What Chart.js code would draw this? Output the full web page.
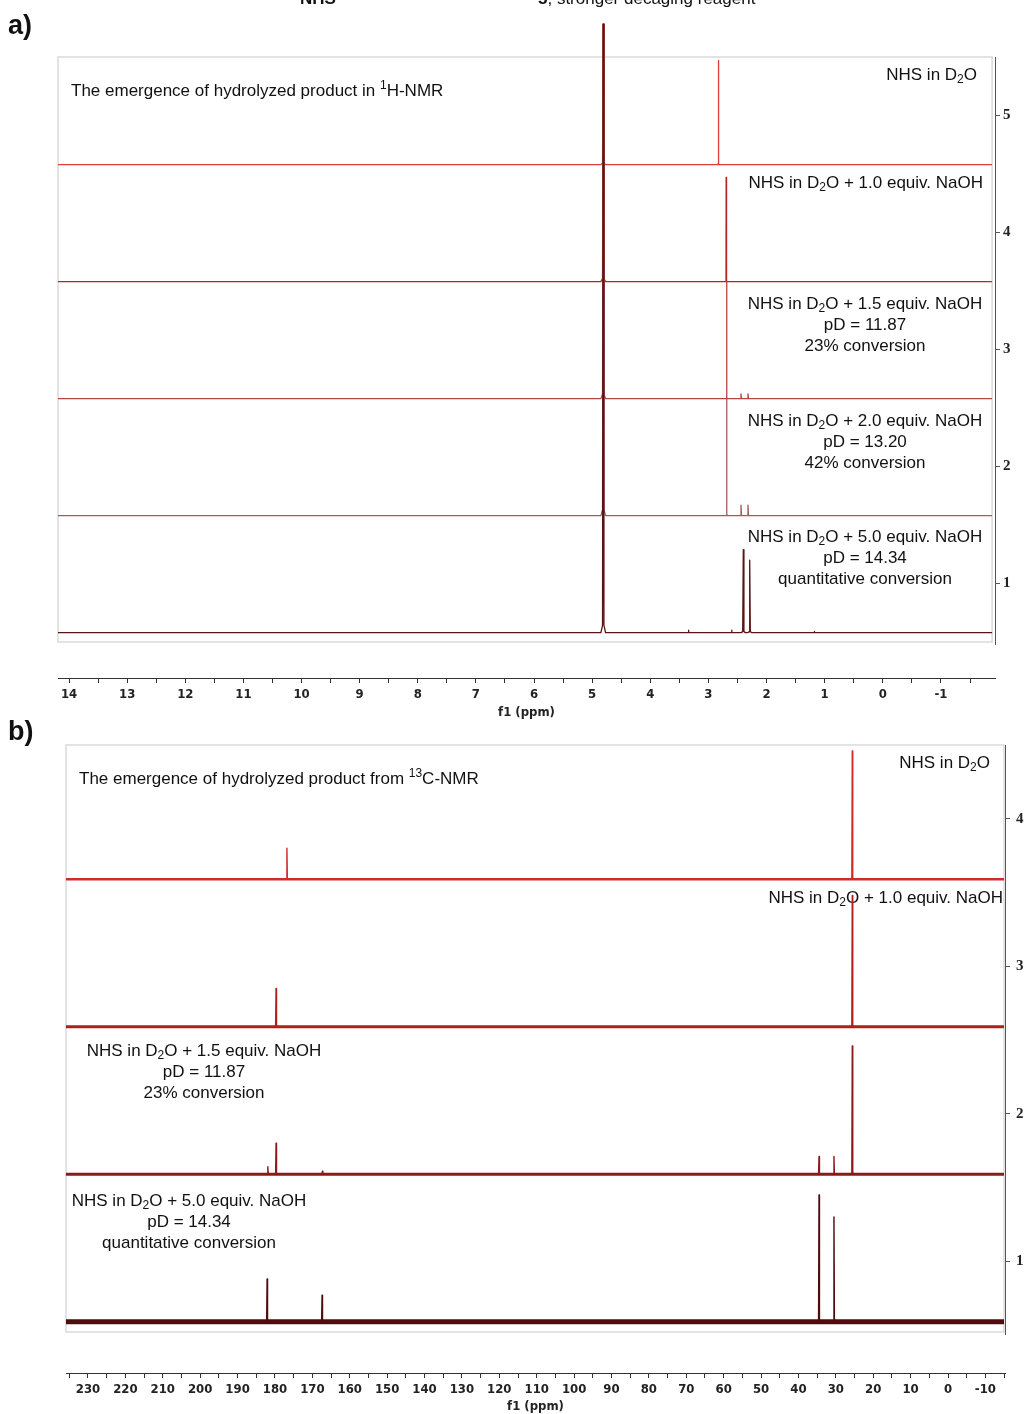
<!DOCTYPE html>
<html>
<head>
<meta charset="utf-8">
<script src="https://cdn.jsdelivr.net/npm/chart.js@4.4.1/dist/chart.umd.min.js"></script>
<style>
  body { margin: 0; background: #fff; }
  #wrap { position: relative; width: 1027px; height: 1414px; }
  canvas { position: absolute; left: 0; }
</style>
</head>
<body>
<div id="wrap">
  <canvas id="nmrH" width="1027" height="720" style="top:0"></canvas>
  <canvas id="nmrC" width="1027" height="699" style="top:715px"></canvas>
</div>
<script>
// ---- a) 1H-NMR, traces listed bottom to top ----
const hTicks = [14, 13, 12, 11, 10, 9, 8, 7, 6, 5, 4, 3, 2, 1, 0, -1];
const hOffsets = [1, 2, 3, 4, 5];
const hBaselines = [0.58, 1.58, 2.58, 3.58, 4.58];
const hPeakPpm = [
  [4.81, 3.34, 2.60, 2.40, 2.29, 1.18],
  [4.81, 2.685, 2.44, 2.32],
  [4.81, 2.685, 2.44, 2.32],
  [4.81, 2.695],
  [4.81, 2.83]
];
const hPeakHeight = [
  [5.20, 0.02, 0.02, 0.71, 0.62, 0.01],
  [4.20, 1.00, 0.09, 0.09],
  [3.20, 1.00, 0.04, 0.04],
  [2.20, 0.89],
  [1.20, 0.89]
];
const hPeakWidth = [
  [0.04, 0.01, 0.015, 0.035, 0.035, 0.01],
  [0.04, 0.01, 0.03, 0.03],
  [0.04, 0.01, 0.03, 0.03],
  [0.04, 0.01],
  [0.04, 0.01]
];
const hLabels = [
  ['NHS in D_{2}O + 5.0 equiv. NaOH', 'pD = 14.34', 'quantitative conversion'],
  ['NHS in D_{2}O + 2.0 equiv. NaOH', 'pD = 13.20', '42% conversion'],
  ['NHS in D_{2}O + 1.5 equiv. NaOH', 'pD = 11.87', '23% conversion'],
  ['NHS in D_{2}O + 1.0 equiv. NaOH'],
  ['NHS in D_{2}O']
];
const hTitle = 'The emergence of hydrolyzed product in ^{1}H-NMR';

// ---- b) 13C-NMR, traces listed bottom to top ----
const cTicks = [230, 220, 210, 200, 190, 180, 170, 160, 150, 140, 130, 120, 110, 100, 90, 80, 70, 60, 50, 40, 30, 20, 10, 0, -10];
const cOffsets = [1, 2, 3, 4];
const cBaselines = [0.59, 1.59, 2.59, 3.59];
const cPeakPpm = [
  [182.1, 167.4, 34.5, 30.5],
  [181.9, 179.7, 167.3, 34.5, 30.5, 25.6],
  [179.7, 25.6],
  [176.8, 25.6]
];
const cPeakHeight = [
  [0.29, 0.18, 0.86, 0.71],
  [0.05, 0.21, 0.02, 0.12, 0.12, 0.87],
  [0.26, 0.89],
  [0.21, 0.87]
];
const cPeakWidth = [
  [0.4, 0.4, 0.4, 0.4],
  [0.4, 0.4, 0.4, 0.4, 0.4, 0.4],
  [0.4, 0.4],
  [0.4, 0.4]
];
const cLabels = [
  ['NHS in D_{2}O + 5.0 equiv. NaOH', 'pD = 14.34', 'quantitative conversion'],
  ['NHS in D_{2}O + 1.5 equiv. NaOH', 'pD = 11.87', '23% conversion'],
  ['NHS in D_{2}O + 1.0 equiv. NaOH'],
  ['NHS in D_{2}O']
];
const cTitle = 'The emergence of hydrolyzed product from ^{13}C-NMR';

const SANS = "'Liberation Sans', Arial, sans-serif";
const NARROW = "'Liberation Sans Narrow', 'Arial Narrow', 'DejaVu Sans Condensed', sans-serif";

// text with _{sub} and ^{sup} parts
function richText(ctx, str, x, y, align, size) {
  const parts = [];
  str.split(/([_^]\{[^}]*\})/).forEach(s => {
    if (!s) return;
    if (s.startsWith('_{')) parts.push({ t: s.slice(2, -1), k: 'sub' });
    else if (s.startsWith('^{')) parts.push({ t: s.slice(2, -1), k: 'sup' });
    else parts.push({ t: s, k: 'n' });
  });
  const small = Math.round(size * 0.68);
  let total = 0;
  parts.forEach(p => {
    ctx.font = (p.k === 'n' ? size : small) + 'px ' + SANS;
    p.w = ctx.measureText(p.t).width;
    total += p.w;
  });
  let cx = align === 'right' ? x - total : align === 'center' ? x - total / 2 : x;
  ctx.textAlign = 'left';
  ctx.textBaseline = 'middle';
  parts.forEach(p => {
    ctx.font = (p.k === 'n' ? size : small) + 'px ' + SANS;
    const dy = p.k === 'sub' ? size * 0.3 : p.k === 'sup' ? -size * 0.3 : 0;
    ctx.fillText(p.t, cx, y + dy);
    cx += p.w;
  });
}

function traceData(base, ppm, height, width, xFrom, xTo) {
  const idx = ppm.map((_, i) => i).sort((a, b) => ppm[b] - ppm[a]);
  const pts = [{ x: xFrom, y: base }];
  idx.forEach(i => {
    const p = ppm[i], h = height[i], w = width[i];
    pts.push({ x: p + w, y: base }, { x: p + w * 0.3, y: base + h * 0.012 },
             { x: p, y: base + h },
             { x: p - w * 0.3, y: base + h * 0.012 }, { x: p - w, y: base });
  });
  pts.push({ x: xTo, y: base });
  return pts;
}

function withMinor(major) {
  const step = major[0] - major[1];
  const out = [major[0] + step / 2];
  major.forEach(v => out.push(v, v - step / 2));
  return out;
}

function panelPlugin(d) {
  return {
    id: 'panel',
    beforeDatasetsDraw(chart) {
      const { ctx, scales: { x, y }, chartArea } = chart;
      ctx.save();
      const l = x.getPixelForValue(d.frameX[0]), r = x.getPixelForValue(d.frameX[1]);
      const t = y.getPixelForValue(d.frameY[1]), b = y.getPixelForValue(d.frameY[0]);
      ctx.strokeStyle = '#dadada';
      ctx.lineWidth = 1.5;
      ctx.strokeRect(l, t, r - l, b - t);
      ctx.strokeStyle = '#555';
      ctx.lineWidth = 1;
      ctx.beginPath();
      ctx.moveTo(chartArea.right + 0.5, t);
      ctx.lineTo(chartArea.right + 0.5, b + 3);
      ctx.stroke();
      ctx.fillStyle = '#111';
      d.labels.forEach((lines, i) => {
        const p = d.labelPos[i];
        lines.forEach((s, k) => richText(ctx, s, p.x, p.y - d.top + k * 21, p.align, 17));
      });
      richText(ctx, d.title, d.titlePos.x, d.titlePos.y - d.top, 'left', 17);
      ctx.restore();
    },
    afterDraw(chart) {
      const ctx = chart.ctx;
      ctx.save();
      ctx.fillStyle = '#111';
      ctx.textAlign = 'left';
      ctx.textBaseline = 'middle';
      ctx.font = 'bold 27px ' + SANS;
      ctx.fillText(d.letter, 8, d.letterY - d.top);
      if (d.header) {
        ctx.textBaseline = 'alphabetic';
        ctx.font = 'bold 17px ' + SANS;
        ctx.fillText('NHS', 300, 4);
        ctx.fillText('5', 538, 4);
        const w5 = ctx.measureText('5').width;
        ctx.font = '17px ' + SANS;
        ctx.fillText(', stronger decaging reagent', 538 + w5, 4);
      }
      ctx.restore();
    }
  };
}

function spectrumChart(canvasId, d) {
  const datasets = [];
  d.baselines.forEach((b, i) => {
    datasets.push({
      data: traceData(b, d.ppm[i], d.height[i], d.width[i], d.frameX[0], d.frameX[1]),
      borderColor: d.colors[i], borderWidth: d.lineWidth, order: 1, clip: false
    });
    if (d.bandWidth) {
      datasets.push({
        data: [{ x: d.frameX[0], y: b }, { x: d.frameX[1], y: b }],
        borderColor: d.colors[i], borderWidth: d.bandWidth[i], order: 2, clip: false
      });
    }
  });
  return new Chart(document.getElementById(canvasId), {
    type: 'line',
    data: { datasets: datasets },
    options: {
      responsive: false,
      animation: false,
      events: [],
      parsing: false,
      layout: { padding: d.padding },
      elements: { point: { radius: 0 }, line: { tension: 0, borderJoinStyle: 'round' } },
      plugins: { legend: { display: false }, tooltip: { enabled: false } },
      scales: {
        x: {
          type: 'linear', reverse: true, min: d.xMin, max: d.xMax,
          afterBuildTicks: s => {
            s.ticks = withMinor(d.ticks).filter(v => v <= d.xMax && v >= d.xMin)
              .sort((a, b) => a - b).map(v => ({ value: v }));
          },
          afterFit: s => { s.height = d.xAxisHeight; },
          ticks: {
            autoSkip: false, maxRotation: 0, padding: 4, color: '#222',
            font: { family: NARROW, size: 13, weight: 'bold' },
            callback: v => d.ticks.includes(v) ? String(v) : ''
          },
          grid: { drawOnChartArea: false, tickLength: 5, color: '#333' },
          border: { display: true, color: '#333', width: 1 },
          title: {
            display: true, text: 'f1 (ppm)', color: '#222', padding: { top: 0, bottom: 0 },
            font: { family: NARROW, size: 13, weight: 'bold' }
          }
        },
        y: {
          type: 'linear', position: 'right', min: d.yMin, max: d.yMax,
          afterBuildTicks: s => { s.ticks = d.offsets.map(v => ({ value: v })); },
          afterFit: s => { s.width = d.yAxisWidth; },
          ticks: {
            padding: d.yPad, color: '#222',
            font: { family: "'Liberation Serif', 'DejaVu Serif', serif", size: 15, weight: 'bold' }
          },
          grid: { drawOnChartArea: false, tickLength: 5, color: '#555' },
          border: { display: false }
        }
      }
    },
    plugins: [panelPlugin(d)]
  });
}

spectrumChart('nmrH', {
  baselines: hBaselines, ppm: hPeakPpm, height: hPeakHeight, width: hPeakWidth,
  ticks: hTicks, offsets: hOffsets, labels: hLabels, title: hTitle,
  colors: ['#5a1414', '#a65a5a', '#b84444', '#b42626', '#e03c3c'],
  lineWidth: 1.3,
  xMin: -1.93, xMax: 14.19, yMin: 0.192, yMax: 5.5,
  frameX: [14.19, -1.88], frameY: [0.5, 5.5],
  padding: { left: 58, right: 1, top: 57, bottom: 0 },
  xAxisHeight: 42, yAxisWidth: 31, yPad: 3,
  top: 0, letter: 'a)', letterY: 27, header: true,
  titlePos: { x: 71, y: 91 },
  labelPos: [
    { x: 865, y: 537, align: 'center' },
    { x: 865, y: 421, align: 'center' },
    { x: 865, y: 304, align: 'center' },
    { x: 983, y: 183, align: 'right' },
    { x: 977, y: 75, align: 'right' }
  ]
});

spectrumChart('nmrC', {
  baselines: cBaselines, ppm: cPeakPpm, height: cPeakHeight, width: cPeakWidth,
  ticks: cTicks, offsets: cOffsets, labels: cLabels, title: cTitle,
  colors: ['#4f0c0c', '#8a1a1a', '#b01e1e', '#d02a2a'],
  lineWidth: 1.4, bandWidth: [5, 3, 3, 2.5],
  xMin: -15.24, xMax: 235.88, yMin: 0.242, yMax: 4.5,
  frameX: [235.88, -14.97], frameY: [0.52, 4.5],
  padding: { left: 66, right: 1, top: 30, bottom: 0 },
  xAxisHeight: 41, yAxisWidth: 21, yPad: 6,
  top: 715, letter: 'b)', letterY: 733, header: false,
  titlePos: { x: 79, y: 779 },
  labelPos: [
    { x: 189, y: 1201, align: 'center' },
    { x: 204, y: 1051, align: 'center' },
    { x: 1003, y: 898, align: 'right' },
    { x: 990, y: 763, align: 'right' }
  ]
});
</script>
</body>
</html>
